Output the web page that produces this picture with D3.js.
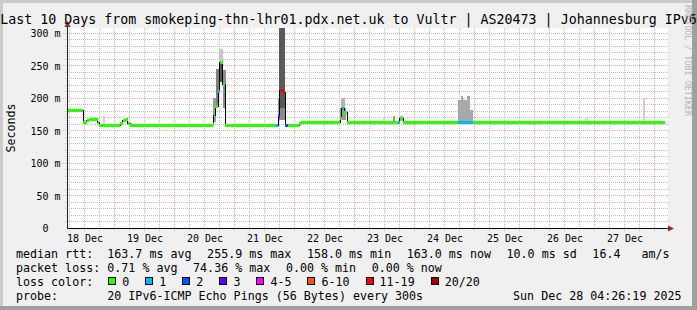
<!DOCTYPE html>
<html><head><meta charset="utf-8">
<script src="https://cdn.jsdelivr.net/npm/d3@7"></script>
<style>
html,body{margin:0;padding:0;background:#f0f0f0;}
svg{display:block;}
text{font-family:"DejaVu Sans Mono",monospace;white-space:pre;}
</style></head><body>
<svg id="chart" width="697" height="310"></svg>
<script>
// ---------------- data ----------------
const titleText = "Last 10 Days from smokeping-thn-lhr01.pdx.net.uk to Vultr | AS20473 | Johannesburg IPv6";
const yAxisTitle = "Seconds";
const watermarkText = "RRDTOOL / TOBI OETIKER";
const timeStart = "2025-12-18 05:00";
const timeEnd = "2025-12-28 05:00";
const yMax = 307.7;
const yTicks = [0, 50, 100, 150, 200, 250, 300];
const yTickLabels = ["0  ", "50 m", "100 m", "150 m", "200 m", "250 m", "300 m"];
const xTickTimes = ["2025-12-18 12:00","2025-12-19 12:00","2025-12-20 12:00","2025-12-21 12:00","2025-12-22 12:00",
                    "2025-12-23 12:00","2025-12-24 12:00","2025-12-25 12:00","2025-12-26 12:00","2025-12-27 12:00"];
const xTickLabels = ["18 Dec","19 Dec","20 Dec","21 Dec","22 Dec","23 Dec","24 Dec","25 Dec","26 Dec","27 Dec"];

// median RTT (ms), step starts; loss = index into lossColors
const medianTimes = [
  "2025-12-18 05:00","2025-12-18 11:24","2025-12-18 12:48","2025-12-18 13:48","2025-12-18 17:12","2025-12-18 17:48",
  "2025-12-19 02:12","2025-12-19 03:15","2025-12-19 04:30","2025-12-19 05:15","2025-12-19 06:12",
  "2025-12-20 15:12","2025-12-20 15:36","2025-12-20 16:12","2025-12-20 17:24","2025-12-20 18:00","2025-12-20 19:15","2025-12-20 20:12",
  "2025-12-21 16:36","2025-12-21 17:24","2025-12-21 18:00","2025-12-21 19:24","2025-12-21 20:12","2025-12-21 21:24",
  "2025-12-22 01:48","2025-12-22 02:36","2025-12-22 18:12","2025-12-22 18:55","2025-12-22 19:48","2025-12-22 21:00",
  "2025-12-23 17:24","2025-12-23 18:00","2025-12-23 19:24",
  "2025-12-24 17:24","2025-12-24 23:24","2025-12-28 04:12"];
const medianValues = [
  181, 163, 166, 167.5, 163, 158,
  161.5, 165.5, 167, 161.5, 158,
  160, 174, 187, 211, 256, 222, 158,
  158, 172, 213, 209, 158, 158,
  161, 163.5, 169, 185, 179, 163.5,
  163.5, 169, 163.5,
  163.5, 163.5, 163];
const medianLoss = [
  0,0,0,0,0,0,
  0,0,0,0,0,
  0,0,0,1,0,0,0,
  1,3,6,6,2,0,
  0,0,0,1,0,0,
  1,0,0,
  1,0,0];

// smoke (ping spread) blocks
const smokeStart = ["2025-12-18 19:12","2025-12-20 15:12","2025-12-20 16:36","2025-12-20 17:48","2025-12-20 17:48","2025-12-20 19:12",
  "2025-12-21 17:12","2025-12-21 17:48","2025-12-21 17:48","2025-12-22 18:12","2025-12-22 18:36",
  "2025-12-23 11:12","2025-12-23 15:24","2025-12-23 17:48",
  "2025-12-24 17:24","2025-12-24 18:36","2025-12-24 19:24","2025-12-24 20:48","2025-12-24 22:00",
  "2025-12-26 20:12","2025-12-27 19:24"];
const smokeEnd = ["2025-12-18 20:00","2025-12-20 16:36","2025-12-20 17:48","2025-12-20 19:12","2025-12-20 19:12","2025-12-20 20:24",
  "2025-12-21 17:48","2025-12-21 20:12","2025-12-21 20:12","2025-12-22 20:36","2025-12-22 20:00",
  "2025-12-23 12:12","2025-12-23 16:12","2025-12-23 19:24",
  "2025-12-24 18:36","2025-12-24 19:24","2025-12-24 20:48","2025-12-24 22:00","2025-12-24 23:24",
  "2025-12-26 21:12","2025-12-27 20:00"];
const smokeLow  = [159,163,190,225,256,185, 165,185,166,166,185, 164,164,164, 164,164,164,164,164, 164,164];
const smokeHigh = [172,200,245,256,275,243, 200,308,185,185,200, 171,173,172, 197,202.5,197,202.5,182, 170,200];
const smokeShade = ["#d4d4d4","#9c9c9c","#808080","#555555","#c8c8c8","#8c8c8c",
  "#9c9c9c","#5a5a5a","#8a8a8a","#9a9a9a","#b4b4b4",
  "#d0d0d0","#9a9a9a","#b4b4b4",
  "#a8a8a8","#a8a8a8","#a8a8a8","#a8a8a8","#a8a8a8",
  "#d8d8d8","#d0d0d0"];

const lossLabels = ["0","1","2","3","4-5","6-10","11-19","20/20"];
const lossColors = ["#26ff00","#00b8ff","#0059ff","#5e00ff","#ff00ff","#ff5500","#ff0000","#a10000"];

const rttLabel = "median rtt:";
const rttStats = ["163.7 ms avg","255.9 ms max","158.0 ms min","163.0 ms now","10.0 ms sd","16.4   am/s"];
const lossRowLabel = "packet loss:";
const lossStats = ["0.71 % avg","74.36 % max","0.00 % min","0.00 % now"];
const lossColorLabel = "loss color:";
const probeLabel = "probe:";
const probeText = "20 IPv6-ICMP Echo Pings (56 Bytes) every 300s";
const stampText = "Sun Dec 28 04:26:19 2025";

// ---------------- drawing ----------------
const W = 697, H = 310;
const svg = d3.select("#chart");
const parse = d3.utcParse("%Y-%m-%d %H:%M");
const x = d3.scaleUtc().domain([parse(timeStart), parse(timeEnd)]).range([67, 667]);
const y = d3.scaleLinear().domain([0, yMax]).range([228, 28]);
const cx = v => Math.floor(v) + 0.5;

// background + 3D border
svg.append("rect").attr("width", W).attr("height", H).attr("fill", "#f0f0f0");
svg.append("rect").attr("x",0).attr("y",0).attr("width",W).attr("height",3).attr("fill","#cbcbcb");
svg.append("rect").attr("x",0).attr("y",0).attr("width",3).attr("height",H).attr("fill","#cbcbcb");
svg.append("rect").attr("x",0).attr("y",H-4).attr("width",W).attr("height",4).attr("fill","#a0a0a0");
svg.append("rect").attr("x",W-5).attr("y",0).attr("width",5).attr("height",H).attr("fill","#a0a0a0");

// canvas
svg.append("rect").attr("x", 67).attr("y", 28).attr("width", 601).attr("height", 200).attr("fill", "#ffffff");

// grid
const grid = svg.append("g").attr("shape-rendering", "crispEdges").attr("stroke-dasharray", "1,1").attr("stroke-width", 1);
const [t0, t1] = x.domain();
const minorT = d3.utcHour.every(6).range(t0, t1).filter(d => d.getUTCHours() !== 0);
const majorT = d3.utcDay.range(t0, t1);
const minorV = d3.range(10, yMax, 10).filter(v => v % 50 !== 0);
const majorV = d3.range(50, yMax, 50);
grid.selectAll(".hmin").data(minorV).join("line")
  .attr("x1", 65).attr("x2", 669).attr("y1", d => cx(y(d))).attr("y2", d => cx(y(d))).attr("stroke", "#c0c0c0");
grid.selectAll(".vmin").data(minorT).join("line")
  .attr("y1", 28).attr("y2", 231).attr("x1", d => cx(x(d))).attr("x2", d => cx(x(d))).attr("stroke", "#c0c0c0");
grid.selectAll(".hmaj").data(majorV).join("line")
  .attr("x1", 63).attr("x2", 669).attr("y1", d => cx(y(d))).attr("y2", d => cx(y(d))).attr("stroke", "#f3a6a6");
grid.selectAll(".vmaj").data(majorT).join("line")
  .attr("y1", 28).attr("y2", 232).attr("x1", d => cx(x(d))).attr("x2", d => cx(x(d))).attr("stroke", "#f3a6a6");

// smoke
const smoke = smokeStart.map((s, i) => ({s: parse(s), e: parse(smokeEnd[i]), lo: smokeLow[i], hi: Math.min(smokeHigh[i], yMax), c: smokeShade[i]}));
svg.append("g").attr("shape-rendering", "crispEdges").selectAll("rect").data(smoke).join("rect")
  .attr("x", d => x(d.s)).attr("width", d => x(d.e) - x(d.s))
  .attr("y", d => y(d.hi)).attr("height", d => y(d.lo) - y(d.hi)).attr("fill", d => d.c);

// median
const med = medianTimes.map((t, i) => ({t: parse(t), v: medianValues[i], l: medianLoss[i]}));
const stepLine = d3.line().x(d => x(d.t)).y(d => Math.round(y(d.v)) + 0.5).curve(d3.curveStepAfter);
svg.append("path").datum(med).attr("d", stepLine).attr("fill", "none").attr("stroke", "#000").attr("stroke-width", 1)
  .attr("shape-rendering", "crispEdges");
svg.append("g").attr("shape-rendering", "crispEdges").selectAll("line").data(med.slice(0, -1)).join("line")
  .attr("x1", d => x(d.t)).attr("x2", (d, i) => x(med[i + 1].t))
  .attr("y1", d => Math.round(y(d.v)) + 0.5).attr("y2", d => Math.round(y(d.v)) + 0.5)
  .attr("stroke", d => lossColors[d.l]).attr("stroke-width", 3);

// axes lines
svg.append("line").attr("x1", 67.5).attr("x2", 669).attr("y1", 228.5).attr("y2", 228.5).attr("stroke", "#000").attr("shape-rendering","crispEdges");
svg.append("line").attr("x1", 67.5).attr("x2", 67.5).attr("y1", 228.5).attr("y2", 26).attr("stroke", "#202020").attr("shape-rendering","crispEdges");
svg.append("path").attr("d", "M668,225.5L674,228.5L668,231.5Z").attr("fill", "#a0242a");
svg.append("path").attr("d", "M64.5,27L67.5,21L70.5,27Z").attr("fill", "#a0242a");

// axis labels via d3 axes
const yAxis = d3.axisLeft(y).tickValues(yTicks).tickFormat((d, i) => yTickLabels[i]).tickSize(0).tickPadding(6.5);
const gy = svg.append("g").attr("transform", "translate(67,0)").call(yAxis);
gy.select(".domain").remove();
gy.selectAll("text").attr("font-family", "DejaVu Sans Mono").attr("font-size", 10).attr("fill", "#000")
  .attr("dy", null).attr("y", 3.6).style("white-space", "pre");

const xAxis = d3.axisBottom(x).tickValues(xTickTimes.map(parse)).tickFormat((d, i) => xTickLabels[i]).tickSize(0).tickPadding(0);
const gx = svg.append("g").attr("transform", "translate(0,228)").call(xAxis);
gx.select(".domain").remove();
gx.selectAll("text").attr("font-family", "DejaVu Sans Mono").attr("font-size", 10).attr("fill", "#000")
  .attr("dy", null).attr("y", 13.6);

// title
svg.append("text").attr("x", W / 2).attr("y", 24).attr("text-anchor", "middle").attr("font-size", 13.3).attr("fill", "#000").text(titleText);
// vertical label
svg.append("text").attr("transform", "translate(15,128) rotate(-90)").attr("text-anchor", "middle").attr("font-size", 11.67).attr("fill", "#000").text(yAxisTitle);
// watermark
svg.append("text").attr("transform", "translate(684.5,5) rotate(90)").attr("font-size", 8.4).attr("fill", "#b4b4b4").text(watermarkText);

// legend
const FS = 11.67, col0 = 16, colV = 107.3, gap = 15.6;
const rowY = [258, 272, 286.3, 300.3];
function addText(xp, yp, s, anchor) {
  return svg.append("text").attr("x", xp).attr("y", yp).attr("font-size", FS).attr("fill", "#000")
    .attr("text-anchor", anchor || "start").text(s);
}
function row(yp, label, items) {
  addText(col0, yp, label);
  let cur = colV;
  items.forEach(s => { const t = addText(cur, yp, s); cur += t.node().getComputedTextLength() + gap; });
}
row(rowY[0], rttLabel, rttStats);
row(rowY[1], lossRowLabel, lossStats);
addText(col0, rowY[2], lossColorLabel);
let cur = colV;
lossLabels.forEach((lab, i) => {
  svg.append("rect").attr("x", cur + 1.5).attr("y", 277.5).attr("width", 7).attr("height", 7)
    .attr("fill", lossColors[i]).attr("stroke", "#000").attr("stroke-width", 1).attr("shape-rendering", "crispEdges");
  const t = addText(cur + 15, rowY[2], lab);
  cur += 15 + t.node().getComputedTextLength() + 15;
});
addText(col0, rowY[3], probeLabel);
addText(colV, rowY[3], probeText);
addText(681.5, rowY[3], stampText, "end");
</script>
</body></html>
